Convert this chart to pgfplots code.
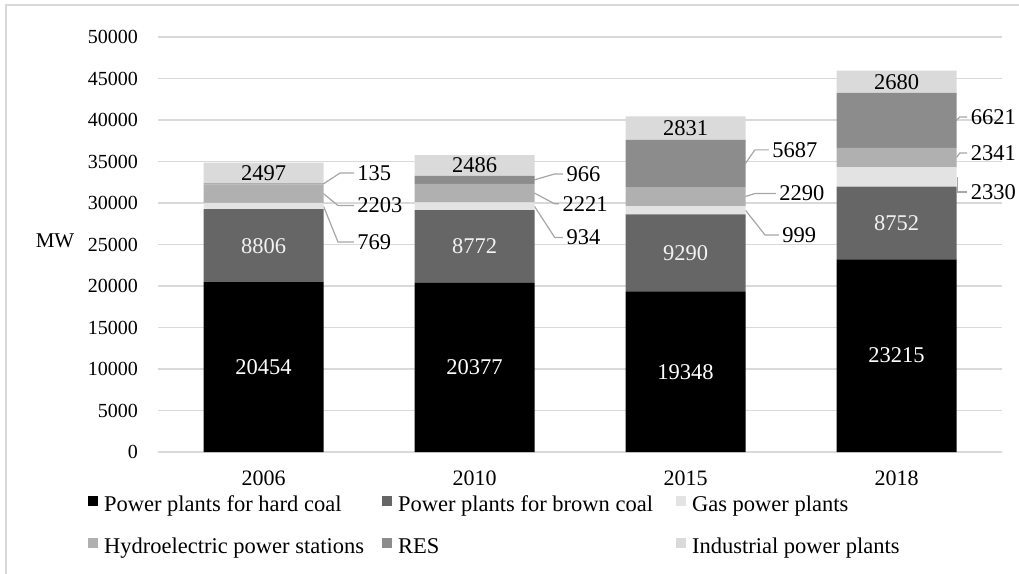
\documentclass[border=0pt]{standalone}
\usepackage{fontspec}
\setmainfont{Liberation Serif}
\usepackage{pgfplots}
\pgfplotsset{compat=1.18}
\usepackage{pgfplotstable}

\definecolor{hardc}{HTML}{000000}
\definecolor{brownc}{HTML}{666666}
\definecolor{gasc}{HTML}{E3E3E3}
\definecolor{hydroc}{HTML}{B0B0B0}
\definecolor{resc}{HTML}{8C8C8C}
\definecolor{indc}{HTML}{DADADA}
\definecolor{gridc}{HTML}{D9D9D9}
\definecolor{leadc}{HTML}{A6A6A6}

% installed capacity, MW
\pgfplotstableread{
x year hard brown gas hydro res ind
0 2006 20454 8806 769 2203 135 2497
1 2010 20377 8772 934 2221 966 2486
2 2015 19348 9290 999 2290 5687 2831
3 2018 23215 8752 2330 2341 6621 2680
}\capacity

\newcommand{\lbl}{\fontsize{22.5bp}{26bp}\selectfont}
% leader line + value label beside a bar
\newcommand{\callout}[6]{%
  \draw[leadc, line width=1.2bp] (axis cs:#1,#2) -- (axis cs:#3,#4) -- (axis cs:#5,#4)
    node[anchor=west, text=black, font=\lbl, inner sep=0pt, xshift=3bp] {#6};}

% value in the middle of its segment (stacked nodes land mid-segment with anchor=center)
\pgfplotsset{
  midlabel/.style={
    point meta=rawy,
    nodes near coords={\pgfmathprintnumber[fixed, precision=0, 1000 sep={}]{\pgfplotspointmeta}},
    every node near coord/.style={anchor=center, font=\lbl, text=#1},
  },
}

\begin{document}
\begin{tikzpicture}
\useasboundingbox (0,0) rectangle (1019bp,574bp);
\draw[gridc, line width=2bp] (6bp,0) -- (6bp,569bp) -- (1019bp,569bp);
\begin{axis}[
  at={(158bp,122bp)}, anchor=south west,
  scale only axis, width=844bp, height=415bp,
  clip=false,
  ybar stacked, bar width=120bp,
  xmin=-0.5, xmax=3.5, ymin=0, ymax=50000,
  xtick={0,1,2,3}, xticklabels={2006,2010,2015,2018},
  ytick={0,5000,...,50000},
  scaled y ticks=false,
  /pgf/number format/1000 sep={},
  /pgf/number format/assume math mode=true,
  axis line style={draw=none},
  major tick length=0pt,
  ymajorgrids, grid style={gridc, line width=1.3bp},
  yticklabel style={font=\fontsize{20bp}{24bp}\selectfont, anchor=east, inner sep=0pt, xshift=-20bp},
  xticklabel style={font=\fontsize{22bp}{26bp}\selectfont, anchor=north, inner sep=0pt, yshift=-19bp},
  legend columns=3,
  legend cell align=left,
  legend style={draw=none, fill=none, at={(-0.083,-0.104)}, anchor=north west,
    font=\lbl, inner sep=0pt,
    nodes={inner sep=0pt, text height=16bp, text depth=5bp},
    row sep=21bp,
    /tikz/every odd column/.style={column sep=6bp}},
  legend image code/.code={\fill[#1] (0bp,0bp) rectangle (10bp,10bp);},
]
\addplot[fill=hardc, draw=none, midlabel=white] table[x=x, y=hard] {\capacity};
\addlegendentry{\makebox[278bp][l]{Power plants for hard coal}}
\addplot[fill=brownc, draw=none, midlabel=black!5] table[x=x, y=brown] {\capacity};
\addlegendentry{\makebox[278bp][l]{Power plants for brown coal}}
\addplot[fill=gasc, draw=none] table[x=x, y=gas] {\capacity};
\addlegendentry{\makebox[278bp][l]{Gas power plants}}
\addplot[fill=hydroc, draw=none] table[x=x, y=hydro] {\capacity};
\addlegendentry{\makebox[278bp][l]{Hydroelectric power stations}}
\addplot[fill=resc, draw=none] table[x=x, y=res] {\capacity};
\addlegendentry{\makebox[278bp][l]{RES}}
\addplot[fill=indc, draw=none, midlabel=black] table[x=x, y=ind] {\capacity};
\addlegendentry{\makebox[278bp][l]{Industrial power plants}}

% 2006
\callout{0.284}{32300}{0.363}{33614}{0.428}{135}
\callout{0.284}{31130}{0.353}{29700}{0.428}{2203}
\callout{0.284}{29645}{0.353}{25300}{0.428}{769}
% 2010
\callout{1.284}{32787}{1.380}{33500}{1.419}{966}
\callout{1.284}{31194}{1.380}{29900}{1.400}{2221}
\callout{1.284}{29616}{1.380}{25850}{1.419}{934}
% 2015
\callout{2.284}{34770}{2.329}{36400}{2.395}{5687}
\callout{2.284}{30782}{2.330}{31150}{2.428}{2290}
\callout{2.284}{29137}{2.377}{26144}{2.442}{999}
% 2018
\callout{3.284}{39948}{3.300}{40360}{3.335}{6621}
\callout{3.284}{35467}{3.300}{36023}{3.335}{2341}
\callout{3.290}{33132}{3.290}{31325}{3.335}{2330}

\node[font=\fontsize{21bp}{24bp}\selectfont, xshift=-103bp] at (rel axis cs:0,0.508) {MW};
\end{axis}
\end{tikzpicture}
\end{document}
